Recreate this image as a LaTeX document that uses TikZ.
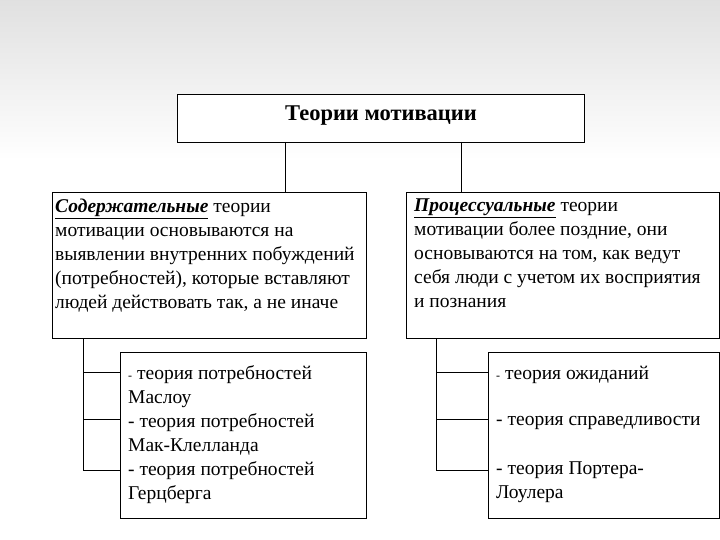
\documentclass[tikz,border=0pt]{standalone}
\usepackage{fontspec}
\setmainfont{Liberation Serif}
\begin{document}
\begin{tikzpicture}[x=1pt,y=-1pt,
  box/.style={draw,line width=0.8pt,fill=white},
  txt/.style={anchor=north west,align=left,inner sep=0pt,font=\rmfamily\fontsize{19.5}{24}\selectfont},
  ln/.style={line width=0.6pt}]
\useasboundingbox (0,0) rectangle (720,540);
\shade[top color=black!12,bottom color=white] (0,0) rectangle (720,160);
\fill[white] (0,160) rectangle (720,540);
% boxes
\draw[box] (177,94) rectangle (584,142);
\node[font=\rmfamily\fontsize{22.5}{26}\selectfont\bfseries] (top) at (381,116) {Теории мотивации};
\draw[box] (52,192) rectangle (366,338);
\draw[box] (406,192) rectangle (719.5,338);
\draw[box] (120,352) rectangle (366,518);
\draw[box] (488,352) rectangle (719.5,518);
\node[txt] (lt) at (55,198.5) {\textbf{\textit{\underline{Содержательные}}} теории\\мотивации основываются на\\выявлении внутренних побуждений\\(потребностей), которые вставляют\\людей действовать так, а не иначе};
\node[txt] (rt) at (414,198.5) {\textbf{\textit{\underline{Процессуальные}}} теории\\мотивации более поздние, они\\основываются на том, как ведут\\себя люди с учетом их восприятия\\и познания};
\node[txt] (ls) at (128,365) {{\fontsize{12}{12}\selectfont -} теория потребностей\\Маслоу\\- теория потребностей\\Мак-Клелланда\\- теория потребностей\\Герцберга};
\node[txt] (r1) at (496,365.5) {{\fontsize{12}{12}\selectfont -} теория ожиданий};
\node[txt] (r2) at (496,416) {- теория справедливости};
\node[txt] (r3) at (496,461.5) {- теория Портера-\\Лоулера};
% connectors
\coordinate (a1) at (285,142); \coordinate (a2) at (285,192);
\coordinate (b1) at (461,142); \coordinate (b2) at (461,192);
\draw[ln] (a1) -- (a2); \draw[ln] (b1) -- (b2);
\coordinate (c0) at (83,338); \coordinate (c3) at (83,470);
\draw[ln] (c0) -- (c3);
\foreach \y in {372,419,470} \draw[ln] (83,\y) -- (120,\y);
\coordinate (d0) at (436,338); \coordinate (d3) at (436,470);
\draw[ln] (d0) -- (d3);
\foreach \y in {372,419,470} \draw[ln] (436,\y) -- (488,\y);
\end{tikzpicture}
\end{document}
